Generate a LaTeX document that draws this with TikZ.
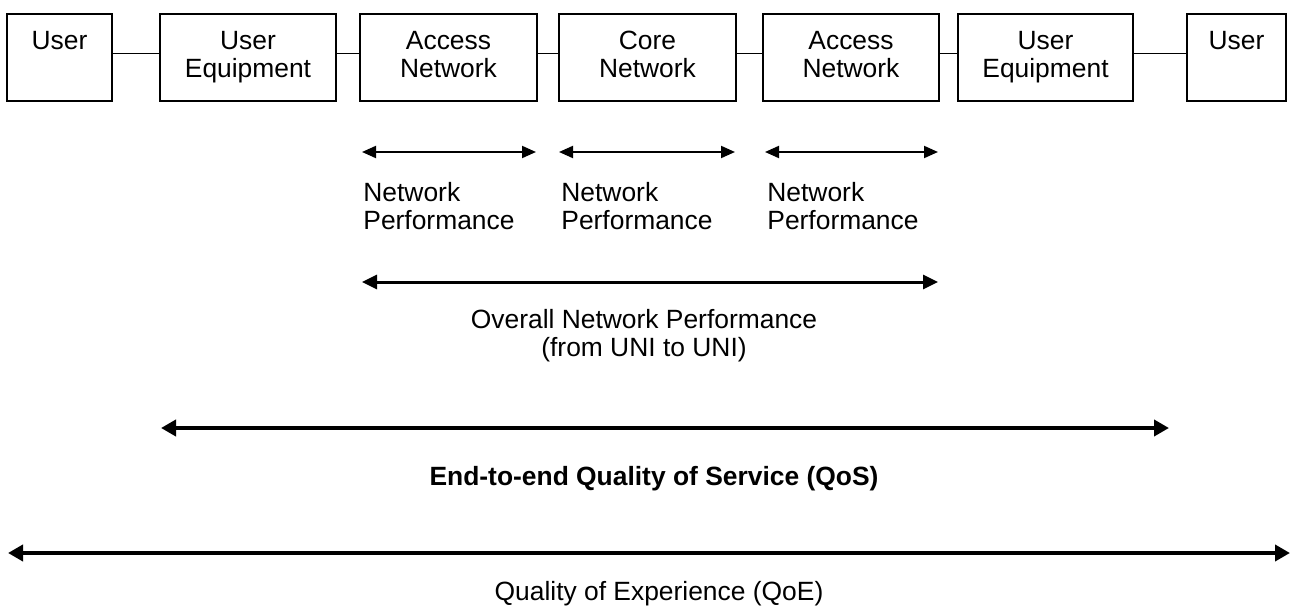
\documentclass[tikz,border=0pt]{standalone}
\usepackage{fontspec}
\setmainfont{Liberation Sans}
\usetikzlibrary{arrows.meta}
\tikzset{
  box/.style={rectangle,draw,line width=0.75pt,minimum height=43.5pt,inner sep=0pt,align=center},
  link/.style={line width=0.75pt},
  npline/.style={{Triangle[length=7pt,width=6pt]}-{Triangle[length=7pt,width=6pt]},line width=1pt},
  allline/.style={{Triangle[length=7.5pt,width=7pt]}-{Triangle[length=7.5pt,width=7pt]},line width=1.5pt},
  qline/.style={{Triangle[length=7.5pt,width=8pt]}-{Triangle[length=7.5pt,width=8pt]},line width=2pt},
  txt/.style={inner sep=0pt}
}
\begin{document}
\begin{tikzpicture}[x=0.5pt,y=-0.5pt,font=\fontsize{13.2}{14}\selectfont]
  \useasboundingbox (0,0) rectangle (1292,610);

  \node at (59.5,57.5) [box,minimum width=52.5pt] (u1) {\strut User\\\strut};
  \node at (248,57.5) [box,minimum width=88pt] (ue1) {\strut User\\\strut Equipment};
  \node at (448.5,57.5) [box,minimum width=88.5pt] (an1) {\strut Access\\\strut Network};
  \node at (647.5,57.5) [box,minimum width=88.5pt] (cn) {\strut Core\\\strut Network};
  \node at (851,57.5) [box,minimum width=88pt] (an2) {\strut Access\\\strut Network};
  \node at (1045.5,57.5) [box,minimum width=87.5pt] (ue2) {\strut User\\\strut Equipment};
  \node at (1236.5,57.5) [box,minimum width=49.5pt] (u2) {\strut User\\\strut};

  \draw [link] ([yshift=2pt]u1.east) -- ([yshift=2pt]ue1.west);
  \draw [link] ([yshift=2pt]ue1.east) -- ([yshift=2pt]an1.west);
  \draw [link] ([yshift=2pt]an1.east) -- ([yshift=2pt]cn.west);
  \draw [link] ([yshift=2pt]cn.east) -- ([yshift=2pt]an2.west);
  \draw [link] ([yshift=2pt]an2.east) -- ([yshift=2pt]ue2.west);
  \draw [link] ([yshift=2pt]ue2.east) -- ([yshift=2pt]u2.west);

  % network performance per segment
  \coordinate (np1l) at (362,152);
  \coordinate (np1r) at (536,152);
  \coordinate (np2l) at (559,152);
  \coordinate (np2r) at (735,152);
  \coordinate (np3l) at (765,152);
  \coordinate (np3r) at (938,152);
  \draw [npline] (np1l) -- (np1r);
  \draw [npline] (np2l) -- (np2r);
  \draw [npline] (np3l) -- (np3r);

  \node at (363,206) [txt,anchor=west,align=left] (np1) {Network\\Performance};
  \node at (561,206) [txt,anchor=west,align=left] (np2) {Network\\Performance};
  \node at (767,206) [txt,anchor=west,align=left] (np3) {Network\\Performance};

  % overall
  \coordinate (alll) at (362,282);
  \coordinate (allr) at (938,282);
  \draw [allline] (alll) -- (allr);
  \node at (644,336) [txt,align=center] (all) {Overall Network Performance\\(from UNI to UNI)};

  % QoS and QoE
  \coordinate (qosl) at (161,428);
  \coordinate (qosr) at (1169,428);
  \draw [qline] (qosl) -- (qosr);
  \node at (654,479) [txt] (qos) {\bfseries End-to-end Quality of Service (QoS)};

  \coordinate (qoel) at (8,553);
  \coordinate (qoer) at (1290,553);
  \draw [qline] (qoel) -- (qoer);
  \node at (659,594) [txt] (qoe) {Quality of Experience (QoE)};
\end{tikzpicture}
\end{document}
